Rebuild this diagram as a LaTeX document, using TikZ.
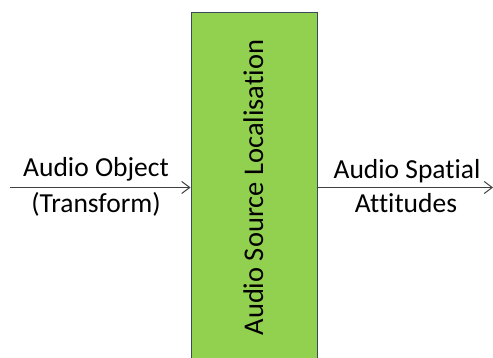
\documentclass[tikz,border=0pt]{standalone}
\usepackage{fontspec}
\setmainfont{Carlito}[Ligatures={NoCommon}]
\usetikzlibrary{arrows.meta}
\definecolor{blockgreen}{HTML}{92D050}
\definecolor{blockedge}{HTML}{3A4A5C}
\definecolor{wire}{HTML}{404040}
\tikzset{
  block/.style={draw=blockedge, line width=0.8pt, fill=blockgreen, inner sep=0pt},
  flow/.style={draw=wire, line width=1pt, -{Straight Barb[length=8pt,width=12pt]}},
  label/.style={font=\fontsize{27.5}{30}\selectfont, inner sep=0pt, anchor=base},
}
\begin{document}
\begin{tikzpicture}[x=1pt, y=-1pt]
  \useasboundingbox (0,0) rectangle (493,358);
  \clip (0,0) rectangle (493,358);
  % processing block, running off the bottom edge
  \node[block, minimum width=126pt, minimum height=358pt, anchor=north west] (box) at (190.5,12) {};
  \node[label, font=\fontsize{28.5}{30}\selectfont, rotate=90] (title) at (263,187.5) {Audio Source Localisation};
  % input and output connectors
  \coordinate (in) at (10,187.5);
  \coordinate (out) at (493,187.5);
  \draw[flow] (in) -- (in -| box.west);
  \draw[flow] (box.east |- out) -- (out);
  % connector labels
  \node[label] (inA) at (96,177) {Audio Object};
  \node[label] (inB) at (96,213) {(Transform)};
  \node[label] (outA) at (407,179) {Audio Spatial};
  \node[label] (outB) at (406,213) {Attitudes};
\end{tikzpicture}
\end{document}
